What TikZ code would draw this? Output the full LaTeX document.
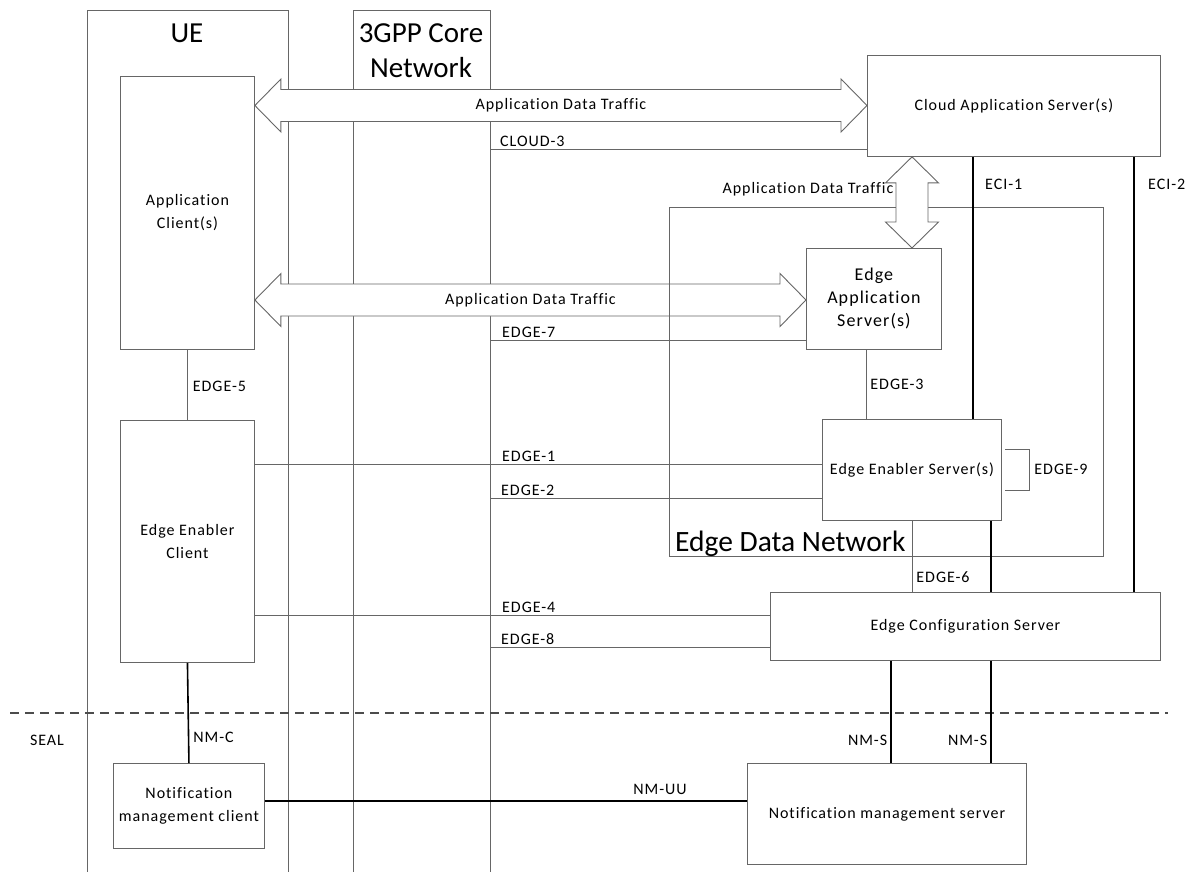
\documentclass[tikz,border=0pt]{standalone}
\usepackage{fontspec}
\setmainfont{Carlito}[LetterSpace=6,Ligatures=NoCommon]
\newfontfamily\headfont{Carlito}
\usetikzlibrary{calc}

\tikzset{
  box/.style={draw=black!60,line width=0.9pt,fill=white,align=center,inner sep=0pt,
    font=\fontsize{16}{23}\selectfont},
  link/.style={draw=black!60,line width=0.9pt},
  hard/.style={draw=black,line width=1.6pt},
  lbl/.style={font=\fontsize{16}{19}\selectfont,inner sep=0pt},
  head/.style={font=\headfont\fontsize{29}{35}\selectfont,align=center,inner sep=0pt},
  bigarrow/.style={draw=black!60,line width=0.9pt,fill=white},
}

\begin{document}
\begin{tikzpicture}[x=1pt,y=-1pt]
      \useasboundingbox (0,0) rectangle (1188,872);

      % columns
      \coordinate (uer) at (288,10);
      \coordinate (cnr) at (490,10);
      \draw[link] (87,872) |- (uer) -- (uer |- 0,872);
      \draw[link] (353,872) |- (cnr) -- (cnr |- 0,872);
      \node[head] (ue) at (187,33) {UE};
      \node[head] (cn) at (421,51) {3GPP Core\\Network};

      % boxes
      \node[box,anchor=north west,minimum width=134,minimum height=273]
            (ac) at (120,76) {Application\\Client(s)};
      \node[box,anchor=north west,minimum width=134,minimum height=242]
            (eec) at (120,420) {Edge Enabler\\Client};
      \node[box,anchor=north west,minimum width=293,minimum height=101]
            (cas) at (867,55) {Cloud Application Server(s)};
      \node[box,anchor=north west,minimum width=135,minimum height=101,
            font=\fontsize{18}{23}\selectfont]
            (eas) at (806,248) {Edge\\Application\\Server(s)};
      \node[box,anchor=north west,minimum width=179,minimum height=101]
            (ees) at (822,419) {Edge Enabler Server(s)};
      \node[box,anchor=north west,minimum width=390,minimum height=68]
            (ecs) at (770,592) {Edge Configuration Server};
      \node[box,anchor=north west,minimum width=151,minimum height=85]
            (nmc) at (113,763) {Notification\\management client};
      \node[box,anchor=north west,minimum width=279,minimum height=101]
            (nms) at (747,763) {Notification management server};

      % application data traffic
      \coordinate (adt1) at (0,105.5);
      \coordinate (adt2) at (0,300);
      \coordinate (adt3) at (912,0);
      \draw[bigarrow] (ac.east |- adt1) -- ++(26,-26.5) -- ++(0,10.5)
            -- ($(cas.west |- adt1)+(-26,-16)$) -- ++(0,-10.5)
            -- (cas.west |- adt1) -- ++(-26,26.5) -- ++(0,-10.5)
            -- ($(ac.east |- adt1)+(26,16)$) -- ++(0,10.5) -- cycle;
      \draw[bigarrow] (ac.east |- adt2) -- ++(26,-26.5) -- ++(0,10.5)
            -- ($(eas.west |- adt2)+(-26,-16)$) -- ++(0,-10.5)
            -- (eas.west |- adt2) -- ++(-26,26.5) -- ++(0,-10.5)
            -- ($(ac.east |- adt2)+(26,16)$) -- ++(0,10.5) -- cycle;
      \node[lbl] (adt1lbl) at ($(ac.east |- adt1)!0.5!(cas.west |- adt1)$)
            {Application Data Traffic};
      \node[lbl] (adt2lbl) at ($(ac.east |- adt2)!0.5!(eas.west |- adt2)$)
            {Application Data Traffic};

      % edge data network
      \node[link,anchor=north west,minimum width=434,minimum height=349,inner sep=0pt]
            (edn) at (669,207) {};
      \node[anchor=base west,inner sep=0pt,font=\headfont\fontsize{29.5}{35}\selectfont]
            (ednlbl) at ($(edn.south west)+(6,-5)$) {Edge Data Network};

      \node[lbl] (adt3lbl) at (808,189) {Application Data Traffic};
      \draw[bigarrow] (cas.south -| adt3) -- ++(26.5,26) -- ++(-10.5,0)
            -- ($(eas.north -| adt3)+(16,-26)$) -- ++(10.5,0)
            -- (eas.north -| adt3) -- ++(-26.5,-26) -- ++(10.5,0)
            -- ($(cas.south -| adt3)+(-16,26)$) -- ++(-10.5,0) -- cycle;

      % reference points across the core network
      \coordinate (cloud3) at (0,149);
      \coordinate (e7) at (0,340);
      \coordinate (e1) at (0,464);
      \coordinate (e2) at (0,498);
      \coordinate (e4) at (0,615);
      \coordinate (e8) at (0,647);
      \draw[link] (cnr |- cloud3) -- (cas.west |- cloud3);
      \draw[link] (cnr |- e7) -- (eas.west |- e7);
      \draw[link] (eec.east |- e1) -- (ees.west |- e1);
      \draw[link] (cnr |- e2) -- (ees.west |- e2);
      \draw[link] (eec.east |- e4) -- (ecs.west |- e4);
      \draw[link] (cnr |- e8) -- (ecs.west |- e8);
      \node[lbl,anchor=base west] at ($(cnr |- cloud3)+(10,-2.5)$) {CLOUD-3};
      \node[lbl,anchor=base west] at ($(cnr |- e7)+(12,-2.5)$) {EDGE-7};
      \node[lbl,anchor=base west] at ($(cnr |- e1)+(12,-2.5)$) {EDGE-1};
      \node[lbl,anchor=base west] at ($(cnr |- e2)+(11,-2.5)$) {EDGE-2};
      \node[lbl,anchor=base west] at ($(cnr |- e4)+(12,-2.5)$) {EDGE-4};
      \node[lbl,anchor=base west] at ($(cnr |- e8)+(11,-2.5)$) {EDGE-8};

      % vertical reference points
      \coordinate (e3) at (866,0);
      \coordinate (e6) at (912,0);
      \coordinate (eci1) at (973,0);
      \coordinate (eci2) at (1134,0);
      \coordinate (nms1) at (891,0);
      \coordinate (nms2) at (991,0);
      \draw[link] (ac.south) -- (eec.north)
            node[lbl,pos=0.52,right=5pt]{EDGE-5};
      \draw[link] (eas.south -| e3) -- (ees.north -| e3)
            node[lbl,pos=0.5,right=4pt]{EDGE-3};
      \draw[hard] (cas.south -| eci1) -- (ees.north -| eci1);
      \draw[hard] (cas.south -| eci2) -- (ecs.north -| eci2);
      \node[lbl,anchor=west] at ($(cas.south -| eci1)+(12,27)$) {ECI-1};
      \node[lbl,anchor=west] at ($(cas.south -| eci2)+(14,27)$) {ECI-2};
      \draw[link] (ees.south -| e6) -- (ecs.north -| e6)
            node[lbl,pos=0.79,right=4pt]{EDGE-6};
      \draw[hard] (ees.south -| nms2) -- (ecs.north -| nms2);
      \coordinate (e9t) at (1005,449);
      \coordinate (e9b) at (1005,490);
      \draw[link] (e9t) -- ++(24,0) |- (e9b)
            node[lbl,pos=0.25,right=5pt]{EDGE-9};

      % SEAL
      \draw[black!70,line width=1.6pt,dash pattern=on 9pt off 6pt] (10,713) -- (1168,713);
      \node[lbl] (seal) at (47,740) {SEAL};
      \draw[hard] (eec.south) -- (nmc.north)
            node[lbl,pos=0.74,right=4pt]{NM-C};
      \draw[hard] (ecs.south -| nms1) -- (nms.north -| nms1)
            node[lbl,pos=0.78,left=3pt]{NM-S};
      \draw[hard] (ecs.south -| nms2) -- (nms.north -| nms2)
            node[lbl,pos=0.78,left=3pt]{NM-S};
      \coordinate (nmuu) at (0,801);
      \draw[hard] (nmc.east |- nmuu) -- (nms.west |- nmuu);
      \node[lbl] (nmuulbl) at (660,789) {NM-UU};
\end{tikzpicture}
\end{document}
